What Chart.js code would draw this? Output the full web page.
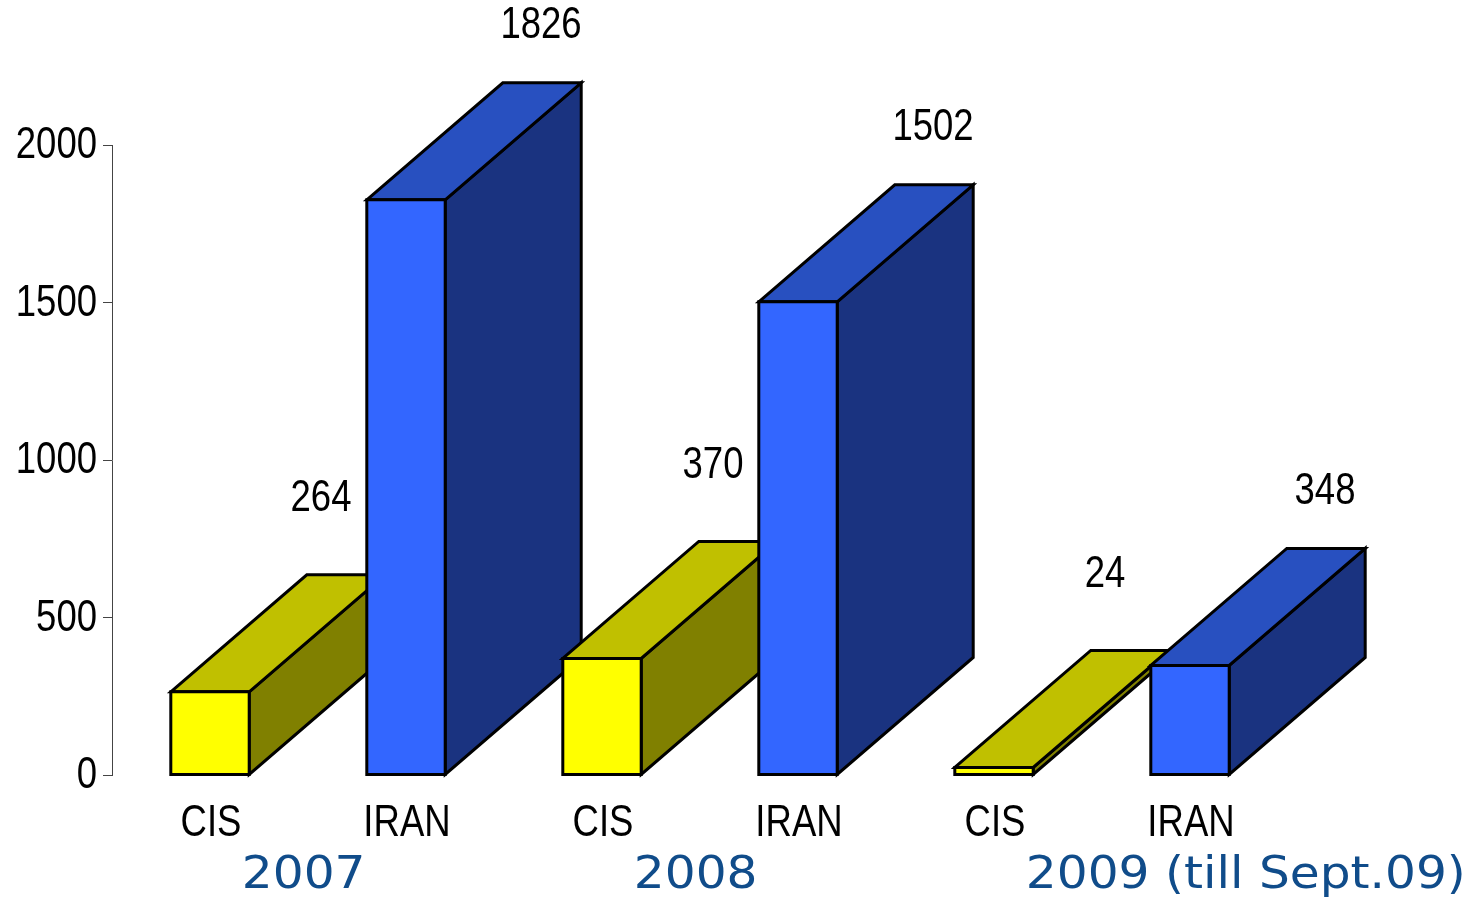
<!DOCTYPE html>
<html>
<head>
<meta charset="utf-8">
<script src="https://cdn.jsdelivr.net/npm/chart.js@4.4.0/dist/chart.umd.min.js"></script>
<style>
  html, body { margin: 0; padding: 0; background: #ffffff; }
  #wrap { width: 1473px; height: 903px; position: relative; }
</style>
</head>
<body>
<div id="wrap"><canvas id="c" width="1473" height="903"></canvas></div>
<script>
// ---- data ----
const categories = ['CIS', 'IRAN', 'CIS', 'IRAN', 'CIS', 'IRAN'];
const values = [264, 1826, 370, 1502, 24, 348];
const years = ['2007', '2008', '2009 (till Sept.09)'];
const yTicks = [0, 500, 1000, 1500, 2000];

// ---- styles ----
function hasFont(name) {
  const c = document.createElement('canvas').getContext('2d');
  c.font = '40px monospace';
  const a = c.measureText('2000 CIS IRAN').width;
  c.font = '40px "' + name + '", monospace';
  return Math.abs(c.measureText('2000 CIS IRAN').width - a) > 0.5;
}
const narrowNative = hasFont('Liberation Sans Narrow');
const NARROW = narrowNative
  ? { family: '"Liberation Sans Narrow", sans-serif', sx: 1 }
  : { family: '"Liberation Sans", Arial, sans-serif', sx: 0.83 };
const YEAR = { family: '"DejaVu Sans", Verdana, sans-serif', sx: 1.08 };
const seriesStyle = {
  CIS:  { front: '#FFFF00', top: '#C0C000', side: '#808000', labelDx: -25, labelDy: -76 },
  IRAN: { front: '#3366FF', top: '#2850C0', side: '#1A3380', labelDx: -1,  labelDy: -57 }
};
const DEPTH_X = 136, DEPTH_Y = 117;

function drawText(ctx, txt, x, y, f, size, color, align, baseline) {
  ctx.save();
  ctx.font = size + 'px ' + f.family;
  ctx.fillStyle = color;
  ctx.textAlign = align;
  ctx.textBaseline = baseline;
  ctx.translate(x, y);
  ctx.scale(f.sx, 1);
  ctx.fillText(txt, 0, 0);
  ctx.restore();
}

const bar3d = {
  id: 'bar3d',
  beforeDatasetsDraw() { return false; },
  afterDraw(chart) {
    const ctx = chart.ctx;
    const meta = chart.getDatasetMeta(0);
    const xs = chart.scales.x, ys = chart.scales.y;
    ctx.save();
    ctx.lineWidth = 3;
    ctx.lineJoin = 'miter';
    ctx.strokeStyle = '#000';
    meta.data.forEach((el, i) => {
      const c = seriesStyle[categories[i]];
      const p = el.getProps(['x', 'y', 'base', 'width'], true);
      const l = p.x - p.width / 2, r = p.x + p.width / 2, t = p.y, b = p.base;
      ctx.beginPath();
      ctx.moveTo(r, t); ctx.lineTo(r + DEPTH_X, t - DEPTH_Y);
      ctx.lineTo(r + DEPTH_X, b - DEPTH_Y); ctx.lineTo(r, b); ctx.closePath();
      ctx.fillStyle = c.side; ctx.fill(); ctx.stroke();
      ctx.beginPath();
      ctx.moveTo(l, t); ctx.lineTo(l + DEPTH_X, t - DEPTH_Y);
      ctx.lineTo(r + DEPTH_X, t - DEPTH_Y); ctx.lineTo(r, t); ctx.closePath();
      ctx.fillStyle = c.top; ctx.fill(); ctx.stroke();
      ctx.beginPath();
      ctx.rect(l, t, r - l, b - t);
      ctx.fillStyle = c.front; ctx.fill(); ctx.stroke();
    });
    ctx.restore();
    // value labels, above the back edge of each bar's top face
    meta.data.forEach((el, i) => {
      const s = seriesStyle[categories[i]];
      const p = el.getProps(['x', 'y'], true);
      drawText(ctx, String(values[i]), p.x + DEPTH_X + s.labelDx, p.y - DEPTH_Y + s.labelDy, NARROW, 44, '#000', 'center', 'middle');
    });
    // y tick labels
    yTicks.forEach(v => {
      drawText(ctx, String(v), xs.left - 15, ys.getPixelForValue(v) + 1, NARROW, 44, '#000', 'right', 'middle');
    });
    // category labels
    categories.forEach((cat, i) => {
      drawText(ctx, cat, xs.getPixelForValue(i) + 1, ys.bottom + 49, NARROW, 44, '#000', 'center', 'middle');
    });
    // year labels, anchored to the left edge of each CIS bar
    years.forEach((yr, k) => {
      const p = meta.data[k * 2].getProps(['x', 'width'], true);
      drawText(ctx, yr, p.x - p.width / 2 + 71, ys.bottom + 101, YEAR, 45, '#104C8A', 'left', 'middle');
    });
  }
};

new Chart(document.getElementById('c'), {
  type: 'bar',
  data: {
    labels: categories,
    datasets: [{
      data: values,
      backgroundColor: categories.map(k => seriesStyle[k].front),
      borderColor: '#000',
      borderWidth: 3,
      barPercentage: 0.8,
      categoryPercentage: 0.5
    }]
  },
  options: {
    responsive: false,
    animation: false,
    devicePixelRatio: 1,
    layout: { padding: { top: 145, right: 185, left: 0, bottom: 0 } },
    plugins: { legend: { display: false }, tooltip: { enabled: false } },
    scales: {
      x: {
        grid: { display: false },
        border: { display: false },
        ticks: { display: false },
        afterFit(s) { s.height = 128; }
      },
      y: {
        min: 0, max: 2000,
        afterBuildTicks(s) { s.ticks = yTicks.map(v => ({ value: v })); },
        grid: { drawOnChartArea: false, drawTicks: true, tickLength: 9, color: '#444', lineWidth: 1 },
        border: { display: true, color: '#444', width: 1 },
        ticks: { display: false },
        afterFit(s) { s.width = 112; }
      }
    }
  },
  plugins: [bar3d]
});
</script>
</body>
</html>
